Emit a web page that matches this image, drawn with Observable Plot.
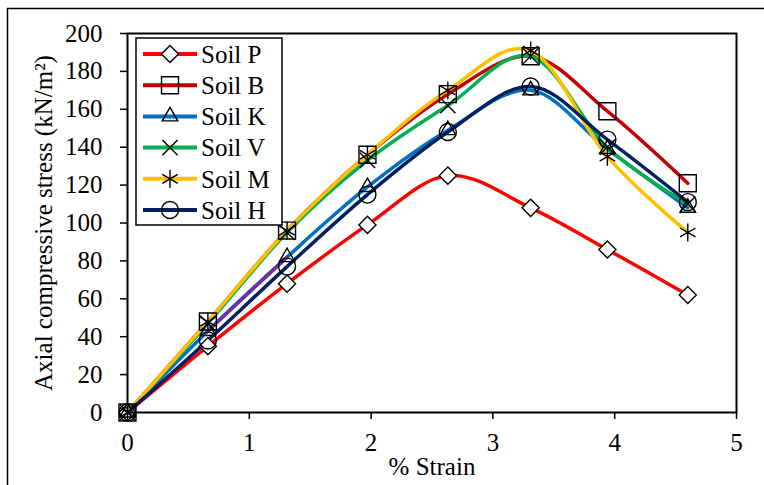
<!DOCTYPE html>
<html><head><meta charset="utf-8">
<script src="https://cdn.jsdelivr.net/npm/d3@7"></script>
<script src="https://cdn.jsdelivr.net/npm/@observablehq/plot@0.6"></script>
<style>body{margin:0;background:#fff;}</style>
</head><body><div id="chart"></div>
<script>
const strain = [0, 0.66, 1.31, 1.97, 2.63, 3.31, 3.94, 4.6];
const soilNames = ["Soil P", "Soil B", "Soil K", "Soil V", "Soil M", "Soil H"];
const soilP = [0, 35, 68, 99, 125, 108, 86, 62];
const soilB = [0, 48, 96, 136, 168, 188, 159, 121];
const soilK = [0, 43, 82, 119, 149, 170, 139, 108];
const soilV = [0, 47, 95, 133, 162, 188, 140, 110];
const soilM = [0, 48, 96, 136, 170, 191, 135, 95];
const soilH = [0, 38, 77, 115, 148, 172, 144, 111];
const soilValues = [soilP, soilB, soilK, soilV, soilM, soilH];
const soilColors = ["#FF0000", "#C00000", "#0070C0", "#00B050", "#FFC000", "#002060"];
const soilSymbols = ["diamond2", "square2", "triangle2", "times", "asterisk", "circle"];
const soilMarkerR = [7.7, 10.8, 7.4, 7, 8.5, 8.5];
const soilMarkerFill = ["white", "none", "none", "none", "none", "none"];
const purpleSegment = ["Soil K", 0.66, 1.31, "#7030A0"];
const xTicks = [0, 1, 2, 3, 4, 5];
const yTicks = [0, 20, 40, 60, 80, 100, 120, 140, 160, 180, 200];
const xLabel = "% Strain";
const yLabel = "Axial compressive stress (kN/m\u00B2)";

const rows = soilNames.flatMap((name, i) =>
  strain.map((s, j) => ({soil: name, strain: s, stress: soilValues[i][j]})));

const FONT = "Liberation Serif, Times New Roman, serif";
const lineMarks = [];
soilNames.forEach((name, i) => {
  lineMarks.push(Plot.line(rows.filter(d => d.soil === name), {
    x: "strain", y: "stress", stroke: soilColors[i], strokeWidth: 3.5, curve: "cardinal"
  }));
  if (name === purpleSegment[0]) {
    lineMarks.push(Plot.line(rows.filter(d => d.soil === name && d.strain >= purpleSegment[1] && d.strain <= purpleSegment[2]), {
      x: "strain", y: "stress", stroke: purpleSegment[3], strokeWidth: 3.5
    }));
  }
});
const dotMarks = soilNames.map((name, i) => Plot.dot(rows.filter(d => d.soil === name), {
  x: "strain", y: "stress", symbol: soilSymbols[i], r: soilMarkerR[i],
  stroke: "black", strokeWidth: 1.4, fill: soilMarkerFill[i]
}));

const svg = Plot.plot({
  width: 764, height: 485,
  marginLeft: 127, marginRight: 28, marginTop: 33, marginBottom: 73,
  x: {domain: [0, 5]},
  y: {domain: [0, 200]},
  style: {fontFamily: FONT, fontSize: "25px", color: "black", background: "white"},
  marks: [
    Plot.axisX({ticks: xTicks, tickFormat: d3.format("d"), tickSize: 7, tickPadding: 14, label: null, fontSize: 25, strokeWidth: 1.5}),
    Plot.axisY({ticks: yTicks, tickFormat: d3.format("d"), tickSize: 7, tickPadding: 18, label: null, fontSize: 25, strokeWidth: 1.5}),
    Plot.text([xLabel], {frameAnchor: "bottom", dy: 54, text: d => d, fontSize: 25, lineAnchor: "middle"}),
    Plot.text([yLabel], {frameAnchor: "left", dx: -84, rotate: -90, text: d => d, fontSize: 25, textAnchor: "middle", lineAnchor: "middle"}),
    ...lineMarks,
    ...dotMarks,
    Plot.frame({stroke: "black", strokeWidth: 2})
  ]
});

// legend inside plot area + outer chart border
const s = d3.select(svg);
const lg = s.append("g").attr("text-anchor", "start");
lg.append("rect").attr("x", 136).attr("y", 38).attr("width", 146).attr("height", 187)
  .attr("fill", "white").attr("stroke", "black").attr("stroke-width", 1.5);
const symMap = {diamond2: d3.symbolDiamond2, square2: d3.symbolSquare2, triangle2: d3.symbolTriangle2,
  times: d3.symbolTimes, asterisk: d3.symbolAsterisk, circle: d3.symbolCircle};
soilNames.forEach((name, i) => {
  const y = 54 + i * 31.2;
  lg.append("line").attr("x1", 143).attr("x2", 197).attr("y1", y).attr("y2", y)
    .attr("stroke", soilColors[i]).attr("stroke-width", 4);
  lg.append("path").attr("transform", `translate(170,${y})`)
    .attr("d", d3.symbol(symMap[soilSymbols[i]], Math.PI * soilMarkerR[i] ** 2)())
    .attr("fill", soilMarkerFill[i]).attr("stroke", "black").attr("stroke-width", 1.4);
  lg.append("text").attr("x", 201).attr("y", y).attr("dy", "0.35em")
    .attr("text-anchor", "start")
    .attr("font-size", 25).attr("font-family", FONT).attr("fill", "black").text(name);
});
s.append("rect").attr("x", 7.5).attr("y", 8.5).attr("width", 900).attr("height", 900)
  .attr("fill", "none").attr("stroke", "black").attr("stroke-width", 1.5);

document.getElementById("chart").appendChild(svg);
</script>
</body></html>
